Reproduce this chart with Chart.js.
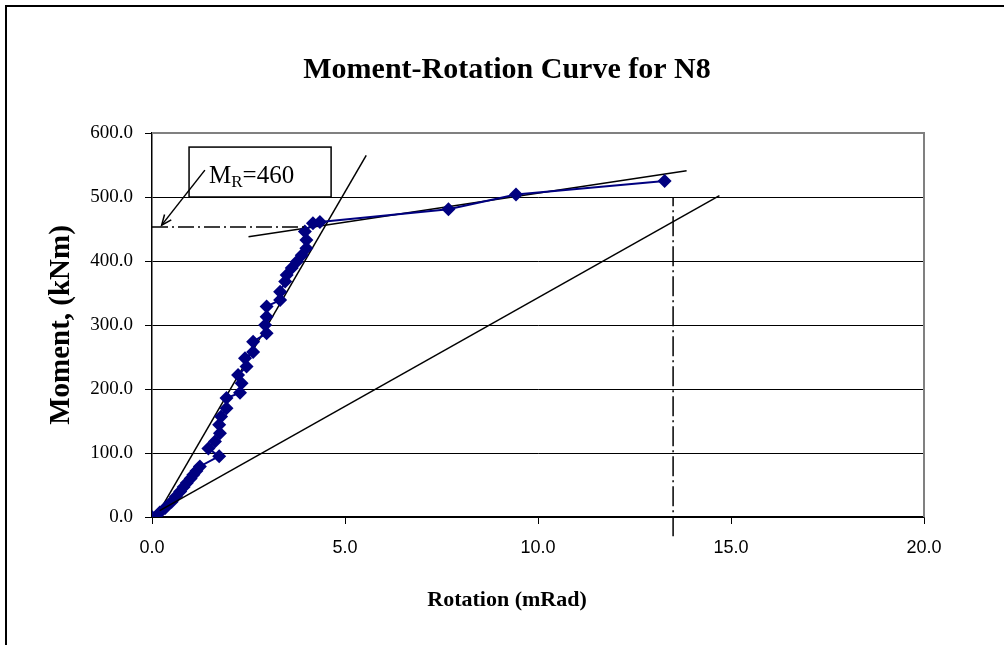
<!DOCTYPE html>
<html>
<head>
<meta charset="utf-8">
<script src="https://cdn.jsdelivr.net/npm/chart.js@4/dist/chart.umd.min.js"></script>
<style>
html,body{margin:0;padding:0;background:#fff;}
#wrap{width:1004px;height:645px;position:relative;}
</style>
</head>
<body>
<div id="wrap"><canvas id="c" width="1004" height="645"></canvas></div>
<script>
// ---- data ----
const rotation = [0, 0.2, 0.34, 0.51, 0.62, 0.73, 0.82, 0.9, 1.0, 1.07, 1.15, 1.24, 1.74, 1.46, 1.63, 1.76, 1.74, 1.79, 1.93, 1.93, 2.28, 2.32, 2.23, 2.45, 2.41, 2.62, 2.62, 2.97, 2.93, 2.97, 2.97, 3.32, 3.32, 3.45, 3.49, 3.62, 3.75, 3.88, 4.0, 4.0, 3.96, 4.17, 4.35, 7.68, 9.43, 13.28];
const moment   = [0, 7, 14, 24, 32, 40, 47, 53, 60, 66, 72, 79, 95, 107, 118, 131, 144, 157, 170, 186, 194, 209, 222, 235, 248, 258, 274, 287, 300, 313, 329, 339, 352, 368, 378, 389, 399, 409, 420, 433, 446, 459, 461, 481, 504, 525];

const elasticX = [0.2, 5.55],  elasticY = [10, 565];
const secantX  = [0.2, 14.7],  secantY  = [10, 502];
const plasticX = [2.5, 13.85], plasticY = [438, 541];
const yieldX   = [0, 4.0],     yieldY   = [453, 453];
const ultX     = [13.5, 13.5], ultY     = [-30, 500];

const xTicks = [0, 5, 10, 15, 20];
const yTicks = [0, 100, 200, 300, 400, 500, 600];

const labelText = {main: 'M', sub: 'R', rest: '=460'};
const labelBox = {x1: 0.96, x2: 4.64, y1: 578, y2: 500};
const arrowFrom = {x: 1.37, y: 542}, arrowTo = {x: 0.25, y: 456};

const pts = (xs, ys) => xs.map((x, i) => ({x, y: ys[i]}));

const refLine = (xs, ys, extra) => Object.assign({
  data: pts(xs, ys), showLine: true, borderColor: '#000', borderWidth: 1.5,
  pointRadius: 0, fill: false, tension: 0, yAxisID: 'y'
}, extra || {});

const decor = {
  id: 'decor',
  beforeDraw(chart) {
    const ctx = chart.ctx;
    ctx.save();
    ctx.fillStyle = '#fff';
    ctx.fillRect(0, 0, chart.width, chart.height);
    ctx.strokeStyle = '#000';
    ctx.lineWidth = 2;
    ctx.beginPath();
    ctx.moveTo(6, chart.height + 2);
    ctx.lineTo(6, 6);
    ctx.lineTo(chart.width + 2, 6);
    ctx.stroke();
    ctx.restore();
  },
  afterDraw(chart) {
    const ctx = chart.ctx, xs = chart.scales.x, ys = chart.scales.y, a = chart.chartArea;
    ctx.save();
    ctx.strokeStyle = '#808080';
    ctx.lineWidth = 2;
    ctx.beginPath();
    ctx.moveTo(a.left, a.top);
    ctx.lineTo(a.right, a.top);
    ctx.lineTo(a.right, a.bottom);
    ctx.stroke();
    const bx1 = xs.getPixelForValue(labelBox.x1), bx2 = xs.getPixelForValue(labelBox.x2);
    const by1 = ys.getPixelForValue(labelBox.y1), by2 = ys.getPixelForValue(labelBox.y2);
    ctx.fillStyle = '#fff';
    ctx.fillRect(bx1, by1, bx2 - bx1, by2 - by1);
    ctx.strokeStyle = '#000';
    ctx.lineWidth = 1.5;
    ctx.strokeRect(bx1, by1, bx2 - bx1, by2 - by1);
    ctx.fillStyle = '#000';
    ctx.textBaseline = 'alphabetic';
    ctx.textAlign = 'left';
    let tx = bx1 + 20, ty = by2 - 14;
    ctx.font = '25px "Liberation Serif"';
    ctx.fillText(labelText.main, tx, ty);
    tx += ctx.measureText(labelText.main).width;
    ctx.font = '17px "Liberation Serif"';
    ctx.fillText(labelText.sub, tx, ty + 4);
    tx += ctx.measureText(labelText.sub).width;
    ctx.font = '25px "Liberation Serif"';
    ctx.fillText(labelText.rest, tx, ty);
    const ax1 = xs.getPixelForValue(arrowFrom.x), ay1 = ys.getPixelForValue(arrowFrom.y);
    const ax2 = xs.getPixelForValue(arrowTo.x), ay2 = ys.getPixelForValue(arrowTo.y);
    ctx.lineWidth = 1.5;
    ctx.beginPath();
    ctx.moveTo(ax1, ay1);
    ctx.lineTo(ax2, ay2);
    ctx.stroke();
    const ang = Math.atan2(ay2 - ay1, ax2 - ax1), L = 11, w = 0.4;
    ctx.beginPath();
    ctx.moveTo(ax2 - L * Math.cos(ang - w), ay2 - L * Math.sin(ang - w));
    ctx.lineTo(ax2, ay2);
    ctx.lineTo(ax2 - L * Math.cos(ang + w), ay2 - L * Math.sin(ang + w));
    ctx.stroke();
    ctx.restore();
  }
};

new Chart(document.getElementById('c'), {
  type: 'scatter',
  data: {
    datasets: [
      refLine(yieldX, yieldY, {borderDash: [16, 4, 2, 4], borderWidth: 1.5}),
      refLine(ultX, ultY, {borderDash: [20, 4, 2, 4], borderWidth: 1.5, clip: false}),
      refLine(secantX, secantY),
      {
        data: pts(rotation, moment), showLine: true, borderColor: '#000080', yAxisID: 'y',
        backgroundColor: '#000080', borderWidth: 2, pointStyle: 'rectRot',
        pointRadius: 7, pointBorderWidth: 0, tension: 0
      },
      refLine(elasticX, elasticY),
      refLine(plasticX, plasticY)
    ]
  },
  options: {
    responsive: false,
    animation: false,
    layout: {padding: {left: 10, right: 0, top: 0, bottom: 0}},
    plugins: {
      legend: {display: false},
      tooltip: {enabled: false},
      title: {
        display: true,
        text: 'Moment-Rotation Curve for N8',
        color: '#000',
        font: {family: '"Liberation Serif"', size: 30, weight: 'bold', lineHeight: 1.2},
        padding: {top: 52, bottom: 45}
      },
      subtitle: {
        display: true,
        position: 'bottom',
        text: 'Rotation (mRad)',
        color: '#000',
        font: {family: '"Liberation Serif"', size: 22, weight: 'bold', lineHeight: 1.2},
        padding: {top: 10, bottom: 31.8}
      }
    },
    scales: {
      x: {
        type: 'linear', min: 0, max: 20,
        afterBuildTicks(s) { s.ticks = xTicks.map(v => ({value: v})); },
        afterFit(s) { s.height = 59.8; },
        ticks: {
          color: '#000', padding: 13,
          font: {family: '"Liberation Sans"', size: 18},
          callback: v => Number(v).toFixed(1)
        },
        grid: {drawOnChartArea: false, drawTicks: true, tickLength: 7, tickColor: '#000', tickWidth: 1},
        border: {display: true, color: '#000', width: 1.5}
      },
      y: {
        type: 'linear', min: 0, max: 600,
        afterBuildTicks(s) { s.ticks = yTicks.map(v => ({value: v})); },
        afterFit(s) { s.width = 142; },
        ticks: {
          color: '#000', padding: 12,
          font: {family: '"Liberation Serif"', size: 19},
          callback: v => Number(v).toFixed(1)
        },
        grid: {
          color: c => (c.tick && c.tick.value === 600) ? '#808080' : '#000',
          lineWidth: 1, tickLength: 7, tickColor: '#000', drawTicks: true
        },
        border: {display: true, color: '#000', width: 1.5},
        title: {
          display: true, text: 'Moment, (kNm)', color: '#000',
          font: {family: '"Liberation Serif"', size: 29, weight: 'bold', lineHeight: 1.2},
          padding: {top: 34.6, bottom: 0}
        }
      },
      y2: {
        type: 'linear', position: 'right', min: 0, max: 600,
        afterFit(s) { s.width = 80; },
        ticks: {display: false},
        grid: {display: false, drawOnChartArea: false},
        border: {display: false}
      }
    }
  },
  plugins: [decor]
});
</script>
</body>
</html>
